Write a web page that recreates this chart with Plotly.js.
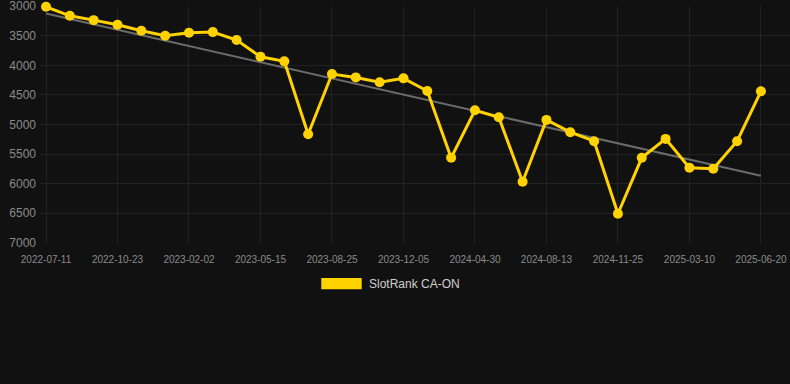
<!DOCTYPE html>
<html>
<head>
<meta charset="utf-8">
<script src="https://cdn.plot.ly/plotly-3.0.1.min.js"></script>
<style>
  html, body { margin: 0; padding: 0; background: #111111; }
  #chart { width: 790px; height: 384px; }
</style>
</head>
<body>
<div id="chart"></div>
<script>
// Categories (dates) - labelled every third one on the axis
const dates = [
  "2022-07-11", "2022-08-15", "2022-09-19",
  "2022-10-23", "2022-11-26", "2022-12-30",
  "2023-02-02", "2023-03-08", "2023-04-11",
  "2023-05-15", "2023-06-18", "2023-07-22",
  "2023-08-25", "2023-09-28", "2023-11-01",
  "2023-12-05", "2024-01-23", "2024-03-12",
  "2024-04-30", "2024-06-04", "2024-07-09",
  "2024-08-13", "2024-09-16", "2024-10-21",
  "2024-11-25", "2024-12-30", "2025-02-03",
  "2025-03-10", "2025-04-13", "2025-05-17",
  "2025-06-20"
];

// Rank values (SlotRank CA-ON)
const ranks = [
  3010, 3163, 3236, 3315, 3416, 3500, 3450, 3438, 3573, 3855,
  3933, 5164, 4147, 4204, 4287, 4220, 4433, 5563, 4759, 4877,
  5968, 4922, 5130, 5282, 6508, 5563, 5243, 5732, 5749, 5282,
  4439
];

const seriesName = "SlotRank CA-ON";
const yTicks = [3000, 3500, 4000, 4500, 5000, 5500, 6000, 6500, 7000];

// Linear trend (least squares over category index)
const n = ranks.length;
const mx = (n - 1) / 2;
const my = ranks.reduce((a, b) => a + b, 0) / n;
let sxy = 0, sxx = 0;
for (let i = 0; i < n; i++) { sxy += (i - mx) * (ranks[i] - my); sxx += (i - mx) * (i - mx); }
const slope = sxy / sxx;
const intercept = my - slope * mx;
const trendX = [dates[0], dates[n - 1]];
const trendY = [intercept, intercept + slope * (n - 1)];

const tickDates = dates.filter((_, i) => i % 3 === 0);

const traces = [
  {
    x: trendX, y: trendY, type: "scatter", mode: "lines",
    line: { color: "#6b6b6b", width: 2 },
    hoverinfo: "skip", showlegend: false, cliponaxis: false
  },
  {
    x: dates, y: ranks, type: "scatter", mode: "lines+markers",
    name: seriesName,
    line: { color: "#FFD200", width: 3 },
    marker: { color: "#FFD200", size: 10 },
    showlegend: false, cliponaxis: false
  }
];

const layout = {
  width: 790, height: 384,
  paper_bgcolor: "#111111", plot_bgcolor: "#111111",
  margin: { l: 40, r: 0, t: 6, b: 141 },
  font: { family: "Arial, 'Liberation Sans', sans-serif", color: "#888888" },
  showlegend: false,
  xaxis: {
    type: "category",
    categoryorder: "array", categoryarray: dates,
    range: [-0.252, 31.22],
    tickmode: "array", tickvals: tickDates, ticktext: tickDates,
    tickfont: { size: 10, color: "#8a8a8a" },
    showgrid: true, gridcolor: "#222222", gridwidth: 1,
    zeroline: false, showline: false, ticks: "",
    tickangle: 0, ticklabelstandoff: 9, ticklabeloverflow: "allow"
  },
  yaxis: {
    range: [7003, 2997],
    tickmode: "array", tickvals: yTicks,
    tickfont: { size: 12, color: "#8a8a8a" },
    showgrid: true, gridcolor: "#222222", gridwidth: 1,
    zeroline: false, showline: false, ticks: "", ticklabelstandoff: 3,
    ticklabeloverflow: "allow"
  },
  shapes: [
    {
      type: "rect", xref: "paper", yref: "paper",
      x0: (321.3 - 40) / 750, x1: (361.7 - 40) / 750,
      y0: (243 - 289.3) / 237, y1: (243 - 278) / 237,
      fillcolor: "#FFD200", line: { width: 0 }
    }
  ],
  annotations: [
    {
      text: seriesName, xref: "paper", yref: "paper",
      x: (367 - 40) / 750, y: (243 - 284) / 237,
      xanchor: "left", yanchor: "middle", showarrow: false,
      font: { size: 12, color: "#d0d0d0" }
    }
  ]
};

Plotly.newPlot("chart", traces, layout, { staticPlot: true, displayModeBar: false });
</script>
</body>
</html>
